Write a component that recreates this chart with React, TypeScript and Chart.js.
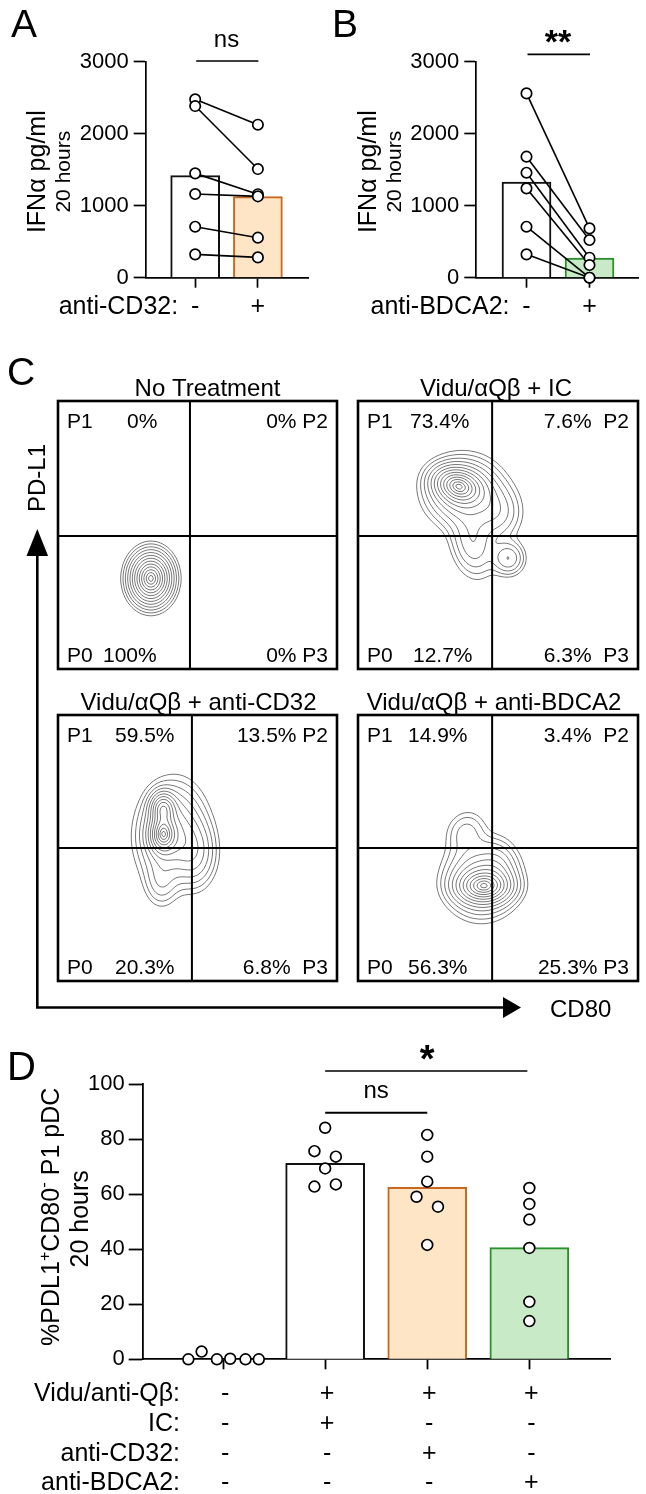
import React, { useEffect, useRef } from 'react';
import { Chart, registerables } from 'chart.js';

Chart.register(...registerables);

const FAMILY = '"Liberation Sans", Arial, Helvetica, sans-serif';
const f = (size: number, bold = false) => `${bold ? 'bold ' : ''}${size}px ${FAMILY}`;

// ===================== Panel A =====================
const aXLabels = ['-', '+'];
const aRowTitle = 'anti-CD32:';
const aWithout = [2477, 2384, 1449, 1162, 708, 324];
const aWith = [2125, 1509, 1160, 1130, 556, 282];
const aMeans = [1417, 1127];
const aSig = 'ns';

// ===================== Panel B =====================
const bXLabels = ['-', '+'];
const bRowTitle = 'anti-BDCA2:';
const bWithout = [2560, 1681, 1458, 1241, 708, 324];
const bWith = [685, 523, 278, 176, 0, 0];
const bMeans = [1329, 272];
const bSig = '**';

const abYTicks = [0, 1000, 2000, 3000];
const abYTitle = 'IFNα pg/ml';
const abYSubtitle = '20 hours';

// ===================== Panel C =====================
const cTitles = ['No Treatment', 'Vidu/αQβ + IC', 'Vidu/αQβ + anti-CD32', 'Vidu/αQβ + anti-BDCA2'];
const cP1 = ['0%', '73.4%', '59.5%', '14.9%'];
const cP2 = ['0% P2', '7.6%  P2', '13.5% P2', '3.4%  P2'];
const cP0 = ['100%', '12.7%', '20.3%', '56.3%'];
const cP3 = ['0% P3', '6.3%  P3', '6.8%  P3', '25.3% P3'];
const cGateCD80 = [47.3, 47.9, 48.0, 47.9];
const cGatePDL1 = [49.6, 49.6, 50.0, 50.0];
const cYAxisTitle = 'PD-L1';
const cXAxisTitle = 'CD80';
// cell-density peaks: [CD80, PD-L1, spread x, spread y, weight, tilt deg]
const cPeaks: number[][][] = [
  [
    [33.3, 33.8, 4.15, 5.35, 1.0, 0],
  ],
  [
    [35.5, 68.5, 5.0, 3.6, 1.0, -20],
    [38.0, 66.0, 7.5, 7.0, 0.6, -10],
    [41.0, 47.0, 4.5, 7.5, 0.28, 10],
    [50.0, 58.0, 5.0, 6.0, 0.22, 0],
    [53.7, 41.3, 3.4, 3.7, 0.3, 0],
  ],
  [
    [37.6, 55.0, 2.8, 4.0, 1.0, 0],
    [37.6, 65.0, 2.6, 3.5, 0.8, 0],
    [40.5, 56.0, 6.5, 10.0, 0.55, -5],
    [49.0, 48.0, 4.5, 7.5, 0.3, 0],
    [37.0, 37.0, 3.5, 5.5, 0.15, 0],
  ],
  [
    [45.0, 35.5, 5.5, 3.5, 1.0, 0],
    [44.0, 38.0, 7.0, 7.5, 0.6, 0],
    [38.5, 56.0, 4.2, 5.0, 0.16, -20],
    [50.0, 43.0, 4.0, 6.0, 0.14, 0],
  ],
];
// contour levels as fractions of each plot's highest density
const cContourLevels = [0.98, 0.923, 0.835, 0.726, 0.607, 0.487, 0.375, 0.278, 0.198, 0.135, 0.089, 0.056, 0.034];

// ===================== Panel D =====================
const dGroups = [0, 1, 2, 3];
const dRowTitles = ['Vidu/anti-Qβ:', 'IC:', 'anti-CD32:', 'anti-BDCA2:'];
const dRowSigns = [
  ['-', '+', '+', '+'],
  ['-', '+', '-', '-'],
  ['-', '-', '+', '-'],
  ['-', '-', '-', '+'],
];
const dMeans = [0, 71.3, 62.5, 40.6];
const dValues = [
  [0, 2.8, 0, 0.2, 0, 0],
  [84.2, 75.7, 73.7, 69.4, 62.8, 63.6],
  [81.6, 73.7, 64.6, 59.1, 55.5, 41.6],
  [62.3, 56.5, 50.8, 40.5, 20.9, 13.9],
];
const dJitter = [
  [-0.34, -0.21, -0.06, 0.07, 0.22, 0.35],
  [0, -0.105, 0.105, 0, -0.105, 0.105],
  [0, 0, 0, -0.105, 0.105, 0],
  [0, 0, 0, 0, 0, 0],
];
const dYTicks = [0, 20, 40, 60, 80, 100];
const dSigNs = 'ns';
const dSigStar = '*';

// ===================== styles =====================
const WHITE = '#ffffff';
const ORANGE_FILL = 'rgb(253,229,197)';
const ORANGE_LINE = 'rgb(200,104,30)';
const GREEN_FILL = 'rgb(200,234,198)';
const GREEN_LINE = 'rgb(42,145,42)';

function drawRotated(ctx: CanvasRenderingContext2D, text: string, font: string, baseX: number, centerY: number) {
  ctx.save();
  ctx.translate(baseX, centerY);
  ctx.rotate(-Math.PI / 2);
  ctx.font = font;
  ctx.textAlign = 'center';
  ctx.textBaseline = 'alphabetic';
  ctx.fillText(text, 0, 0);
  ctx.restore();
}

function drawRotatedRich(ctx: CanvasRenderingContext2D, segs: { t: string; size: number; rise: number }[], baseX: number, centerY: number) {
  ctx.save();
  ctx.translate(baseX, centerY);
  ctx.rotate(-Math.PI / 2);
  ctx.textAlign = 'left';
  ctx.textBaseline = 'alphabetic';
  let total = 0;
  segs.forEach((s) => { ctx.font = f(s.size); total += ctx.measureText(s.t).width; });
  let x = -total / 2;
  segs.forEach((s) => {
    ctx.font = f(s.size);
    ctx.fillText(s.t, x, -s.rise);
    x += ctx.measureText(s.t).width;
  });
  ctx.restore();
}

function densityAt(peaks: number[][], x: number, y: number) {
  let s = 0;
  for (const [cx, cy, sx, sy, w, rot] of peaks) {
    const a = (rot * Math.PI) / 180;
    const dx = x - cx;
    const dy = y - cy;
    const u = (dx * Math.cos(a) + dy * Math.sin(a)) / sx;
    const v = (-dx * Math.sin(a) + dy * Math.cos(a)) / sy;
    s += w * Math.exp(-0.5 * (u * u + v * v));
  }
  return s;
}

const baseOptions = {
  responsive: false,
  animation: false as const,
  devicePixelRatio: 1,
  events: [] as any[],
  plugins: { legend: { display: false }, tooltip: { enabled: false } },
};

type PairedCfg = {
  letter: string; letterX: number;
  without: number[]; withV: number[]; means: number[];
  xLabels: string[]; rowTitle: string; sig: string; sigFont: string; sigTextY: number; sigLineY: number;
  fills: string[]; lines: string[];
  yWidth: number; padRight: number; xMin: number; xMax: number;
};

function pairedChart(canvas: HTMLCanvasElement, c: PairedCfg) {
  const pairLines = c.without.map((v, i) => ({
    type: 'line' as const,
    data: [{ x: 0, y: v }, { x: 1, y: c.withV[i] }],
    borderColor: '#000', borderWidth: 1.6, pointRadius: 0, order: 5, clip: false as any,
  }));
  const points = {
    type: 'line' as const,
    showLine: false,
    data: [...c.without.map((v) => ({ x: 0, y: v })), ...c.withV.map((v) => ({ x: 1, y: v }))],
    pointRadius: 5.2, pointBorderWidth: 1.7, pointBackgroundColor: '#fff', pointBorderColor: '#000',
    order: 0, clip: false as any,
  };
  const bars = {
    type: 'bar' as const,
    data: c.means.map((m, i) => ({ x: i, y: m })),
    backgroundColor: c.fills, borderColor: c.lines, borderWidth: 2, barThickness: 49, order: 10,
  };
  return new Chart(canvas, {
    type: 'bar',
    data: { datasets: [bars, ...pairLines, points] as any },
    options: {
      ...baseOptions,
      layout: { padding: { left: 0, right: c.padRight, top: 61.7, bottom: 0 } },
      scales: {
        x: {
          type: 'linear', min: c.xMin, max: c.xMax, offset: false,
          afterBuildTicks: (s: any) => { s.ticks = [{ value: 0 }, { value: 1 }]; },
          ticks: { display: false },
          grid: { offset: false, drawOnChartArea: false, drawTicks: true, tickLength: 10, tickWidth: 1.7, tickColor: '#000' },
          border: { display: true, color: '#000', width: 1.7 },
          afterFit: (s: any) => { s.height = 52.3; },
        },
        y: {
          type: 'linear', min: 0, max: 3000,
          afterBuildTicks: (s: any) => { s.ticks = abYTicks.map((v) => ({ value: v })); },
          ticks: { font: { family: FAMILY, size: 22 }, color: '#000', padding: 5, callback: (v: any) => String(v) },
          grid: { drawOnChartArea: false, drawTicks: true, tickLength: 12, tickWidth: 1.7, tickColor: '#000' },
          border: { display: true, color: '#000', width: 1.7 },
          afterFit: (s: any) => { s.width = c.yWidth; },
        },
      },
    } as any,
    plugins: [{
      id: 'pairedAnnot',
      afterDraw(chart: any) {
        const ctx = chart.ctx as CanvasRenderingContext2D;
        const ca = chart.chartArea;
        const xs = chart.scales.x;
        ctx.save();
        ctx.fillStyle = '#000';
        ctx.strokeStyle = '#000';
        ctx.font = f(39);
        ctx.textAlign = 'left';
        ctx.textBaseline = 'alphabetic';
        ctx.fillText(c.letter, c.letterX, 36.5);
        const midY = (ca.top + ca.bottom) / 2 + 2;
        drawRotated(ctx, abYTitle, f(25), ca.left - 100.7, midY);
        drawRotated(ctx, abYSubtitle, f(21), ca.left - 75.7, midY);
        const x0 = xs.getPixelForValue(0);
        const x1 = xs.getPixelForValue(1);
        ctx.font = f(25);
        ctx.textAlign = 'right';
        ctx.fillText(c.rowTitle, x0 - 17, 314);
        ctx.textAlign = 'center';
        c.xLabels.forEach((l, i) => ctx.fillText(l, xs.getPixelForValue(i), 314));
        ctx.lineWidth = 1.7;
        ctx.beginPath();
        ctx.moveTo(x0 + 1, c.sigLineY);
        ctx.lineTo(x1 + 0.5, c.sigLineY);
        ctx.stroke();
        ctx.font = c.sigFont;
        ctx.fillText(c.sig, (x0 + x1) / 2, c.sigTextY);
        ctx.restore();
      },
    }],
  });
}

const BOX_LAYOUT = [
  { left: 58, top: 401, w: 279, h: 268 },
  { left: 358, top: 401, w: 280, h: 268 },
  { left: 58, top: 715, w: 279, h: 266 },
  { left: 358, top: 715, w: 280, h: 266 },
];
const TITLE_SHIFT = [10, -2, 1, -4];
const TOP_PCT_OFF = [69, 52, 57, 50];
const BOT_PCT_OFF = [45, 55, 57, 50];

function boxChart(canvas: HTMLCanvasElement, i: number) {
  return new Chart(canvas, {
    type: 'scatter',
    data: { datasets: [] },
    options: {
      ...baseOptions,
      layout: { padding: { left: 12, right: 8, top: 40, bottom: 8 } },
      scales: {
        x: { type: 'linear', min: 0, max: 100, display: false },
        y: { type: 'linear', min: 0, max: 100, display: false },
      },
    } as any,
    plugins: [{
      id: 'facs',
      afterDraw(chart: any) {
        const ctx = chart.ctx as CanvasRenderingContext2D;
        const ca = chart.chartArea;
        const xs = chart.scales.x;
        const ys = chart.scales.y;

        // contour plot (marching squares over the density)
        const step = 2;
        const nx = Math.floor((ca.right - ca.left) / step);
        const ny = Math.floor((ca.bottom - ca.top) / step);
        const W = nx + 1;
        const grid = new Float64Array(W * (ny + 1));
        let max = 0;
        for (let j = 0; j <= ny; j++) {
          for (let k = 0; k <= nx; k++) {
            const v = densityAt(cPeaks[i], xs.getValueForPixel(ca.left + k * step), ys.getValueForPixel(ca.top + j * step));
            grid[j * W + k] = v;
            if (v > max) max = v;
          }
        }
        ctx.save();
        ctx.beginPath();
        ctx.rect(ca.left, ca.top, ca.right - ca.left, ca.bottom - ca.top);
        ctx.clip();
        ctx.strokeStyle = 'rgb(120,120,120)';
        ctx.lineWidth = 1;
        for (const lv of cContourLevels) {
          const L = lv * max;
          ctx.beginPath();
          for (let j = 0; j < ny; j++) {
            for (let k = 0; k < nx; k++) {
              const v0 = grid[j * W + k];
              const v1 = grid[j * W + k + 1];
              const v2 = grid[(j + 1) * W + k + 1];
              const v3 = grid[(j + 1) * W + k];
              const X = ca.left + k * step;
              const Y = ca.top + j * step;
              const p: number[][] = [];
              if ((v0 >= L) !== (v1 >= L)) p.push([X + (step * (L - v0)) / (v1 - v0), Y]);
              if ((v1 >= L) !== (v2 >= L)) p.push([X + step, Y + (step * (L - v1)) / (v2 - v1)]);
              if ((v3 >= L) !== (v2 >= L)) p.push([X + (step * (L - v3)) / (v2 - v3), Y + step]);
              if ((v0 >= L) !== (v3 >= L)) p.push([X, Y + (step * (L - v0)) / (v3 - v0)]);
              if (p.length >= 2) { ctx.moveTo(p[0][0], p[0][1]); ctx.lineTo(p[1][0], p[1][1]); }
              if (p.length === 4) { ctx.moveTo(p[2][0], p[2][1]); ctx.lineTo(p[3][0], p[3][1]); }
            }
          }
          ctx.stroke();
        }
        ctx.restore();

        ctx.save();
        ctx.strokeStyle = '#000';
        ctx.fillStyle = '#000';
        const gx = xs.getPixelForValue(cGateCD80[i]);
        const gy = ys.getPixelForValue(cGatePDL1[i]);
        ctx.lineWidth = 2;
        ctx.beginPath();
        ctx.moveTo(gx, ca.top); ctx.lineTo(gx, ca.bottom);
        ctx.moveTo(ca.left, gy); ctx.lineTo(ca.right, gy);
        ctx.stroke();
        ctx.lineWidth = 2.6;
        ctx.strokeRect(ca.left, ca.top, ca.right - ca.left, ca.bottom - ca.top);

        ctx.textBaseline = 'alphabetic';
        ctx.font = f(24);
        ctx.textAlign = 'center';
        ctx.fillText(cTitles[i], (ca.left + ca.right) / 2 + TITLE_SHIFT[i], ca.top - 5);

        ctx.font = f(21);
        ctx.textAlign = 'left';
        ctx.fillText('P1', ca.left + 9, ca.top + 27);
        ctx.fillText(cP1[i], ca.left + TOP_PCT_OFF[i], ca.top + 27);
        ctx.fillText('P0', ca.left + 9, ca.bottom - 7);
        ctx.fillText(cP0[i], ca.left + BOT_PCT_OFF[i], ca.bottom - 7);
        ctx.textAlign = 'right';
        ctx.fillText(cP2[i], ca.right - 9, ca.top + 27);
        ctx.fillText(cP3[i], ca.right - 9, ca.bottom - 7);
        ctx.restore();
      },
    }],
  });
}

function frameChart(canvas: HTMLCanvasElement) {
  const o = 330;
  return new Chart(canvas, {
    type: 'scatter',
    data: { datasets: [] },
    options: {
      ...baseOptions,
      scales: {
        x: { type: 'linear', min: 0, max: 1, display: false },
        y: { type: 'linear', min: 0, max: 1, display: false },
      },
    } as any,
    plugins: [{
      id: 'cframe',
      afterDraw(chart: any) {
        const ctx = chart.ctx as CanvasRenderingContext2D;
        ctx.save();
        ctx.fillStyle = '#000';
        ctx.strokeStyle = '#000';
        ctx.font = f(39);
        ctx.textAlign = 'left';
        ctx.textBaseline = 'alphabetic';
        ctx.fillText('C', 7, 385 - o);
        drawRotated(ctx, cYAxisTitle, f(24), 45, 478 - o);
        ctx.lineWidth = 2.6;
        ctx.lineJoin = 'miter';
        ctx.beginPath();
        ctx.moveTo(37.3, 553 - o);
        ctx.lineTo(37.3, 1007.5 - o);
        ctx.lineTo(506, 1007.5 - o);
        ctx.stroke();
        ctx.beginPath();
        ctx.moveTo(37.3, 529 - o); ctx.lineTo(26.5, 556 - o); ctx.lineTo(48.1, 556 - o); ctx.closePath();
        ctx.fill();
        ctx.beginPath();
        ctx.moveTo(521, 1007.5 - o); ctx.lineTo(503, 997 - o); ctx.lineTo(503, 1018 - o); ctx.closePath();
        ctx.fill();
        ctx.font = f(24);
        ctx.fillText(cXAxisTitle, 550, 1017 - o);
        ctx.restore();
      },
    }],
  });
}

function dChart(canvas: HTMLCanvasElement) {
  const bars = {
    type: 'bar' as const,
    data: dMeans.map((m, i) => ({ x: dGroups[i], y: m })),
    backgroundColor: [WHITE, WHITE, ORANGE_FILL, GREEN_FILL],
    borderColor: ['#111', '#111', ORANGE_LINE, GREEN_LINE],
    borderWidth: 2, barThickness: 79, order: 10,
  };
  const pts: { x: number; y: number }[] = [];
  dValues.forEach((arr, g) => arr.forEach((v, k) => pts.push({ x: dGroups[g] + dJitter[g][k], y: v })));
  const points = {
    type: 'line' as const, showLine: false, data: pts,
    pointRadius: 5.4, pointBorderWidth: 1.7, pointBackgroundColor: '#fff', pointBorderColor: '#000',
    order: 0, clip: false as any,
  };
  return new Chart(canvas, {
    type: 'bar',
    data: { datasets: [bars, points] as any },
    options: {
      ...baseOptions,
      layout: { padding: { left: 0, right: 36, top: 54.3, bottom: 0 } },
      scales: {
        x: {
          type: 'linear', min: -0.787, max: 3.79, offset: false,
          afterBuildTicks: (s: any) => { s.ticks = dGroups.map((g) => ({ value: g })); },
          ticks: { display: false },
          grid: { offset: false, drawOnChartArea: false, drawTicks: true, tickLength: 10, tickWidth: 1.8, tickColor: '#000' },
          border: { display: true, color: '#000', width: 1.8 },
          afterFit: (s: any) => { s.height = 134.7; },
        },
        y: {
          type: 'linear', min: 0, max: 100,
          afterBuildTicks: (s: any) => { s.ticks = dYTicks.map((v) => ({ value: v })); },
          ticks: { font: { family: FAMILY, size: 22 }, color: '#000', padding: 4, callback: (v: any) => String(v) },
          grid: { drawOnChartArea: false, drawTicks: true, tickLength: 14, tickWidth: 1.8, tickColor: '#000' },
          border: { display: true, color: '#000', width: 1.8 },
          afterFit: (s: any) => { s.width = 142.7; },
        },
      },
    } as any,
    plugins: [{
      id: 'dAnnot',
      afterDraw(chart: any) {
        const ctx = chart.ctx as CanvasRenderingContext2D;
        const ca = chart.chartArea;
        const xs = chart.scales.x;
        ctx.save();
        ctx.fillStyle = '#000';
        ctx.strokeStyle = '#000';
        ctx.textBaseline = 'alphabetic';
        ctx.font = f(40);
        ctx.textAlign = 'left';
        ctx.fillText('D', 7, 50);
        const mid = (ca.top + ca.bottom) / 2;
        drawRotatedRich(ctx, [
          { t: '%PDL1', size: 25, rise: 0 },
          { t: '+', size: 16, rise: 9 },
          { t: 'CD80', size: 25, rise: 0 },
          { t: '-', size: 17, rise: 10 },
          { t: ' P1 pDC', size: 25, rise: 0 },
        ], ca.left - 83.7, mid - 5);
        drawRotated(ctx, abYSubtitle, f(25), ca.left - 54.4, mid - 3);

        const gx = dGroups.map((g) => xs.getPixelForValue(g));
        ctx.font = f(25);
        dRowTitles.forEach((t, r) => {
          const y = ca.bottom + 42 + 29.7 * r;
          ctx.textAlign = 'right';
          ctx.fillText(t, gx[0] - 43, y);
          ctx.textAlign = 'center';
          dRowSigns[r].forEach((s, g) => ctx.fillText(s, gx[g] + 2, y));
        });

        ctx.lineWidth = 2;
        ctx.beginPath();
        ctx.moveTo(gx[1], ca.top + 28.4);
        ctx.lineTo(gx[2], ca.top + 28.4);
        ctx.stroke();
        ctx.lineWidth = 1.3;
        ctx.beginPath();
        ctx.moveTo(gx[1], ca.top - 13.3);
        ctx.lineTo(gx[3] - 2, ca.top - 13.3);
        ctx.stroke();
        ctx.textAlign = 'center';
        ctx.font = f(24);
        ctx.fillText(dSigNs, (gx[1] + gx[2]) / 2, ca.top + 14);
        ctx.font = f(38, true);
        ctx.fillText(dSigStar, (gx[1] + gx[3]) / 2, 42);
        ctx.restore();
      },
    }],
  });
}

export default function App() {
  const aRef = useRef<HTMLCanvasElement>(null);
  const bRef = useRef<HTMLCanvasElement>(null);
  const frameRef = useRef<HTMLCanvasElement>(null);
  const box0 = useRef<HTMLCanvasElement>(null);
  const box1 = useRef<HTMLCanvasElement>(null);
  const box2 = useRef<HTMLCanvasElement>(null);
  const box3 = useRef<HTMLCanvasElement>(null);
  const dRef = useRef<HTMLCanvasElement>(null);
  const boxRefs = [box0, box1, box2, box3];

  useEffect(() => {
    document.body.style.margin = '0';
    const charts: Chart[] = [];
    charts.push(pairedChart(aRef.current!, {
      letter: 'A', letterX: 11, without: aWithout, withV: aWith, means: aMeans,
      xLabels: aXLabels, rowTitle: aRowTitle, sig: aSig, sigFont: f(24), sigTextY: 46.7, sigLineY: 61,
      fills: [WHITE, ORANGE_FILL], lines: ['#111', ORANGE_LINE],
      yWidth: 145.7, padRight: 15, xMin: -0.789, xMax: 1.799,
    }));
    charts.push(pairedChart(bRef.current!, {
      letter: 'B', letterX: 9, without: bWithout, withV: bWith, means: bMeans,
      xLabels: bXLabels, rowTitle: bRowTitle, sig: bSig, sigFont: f(34, true), sigTextY: 53, sigLineY: 54.3,
      fills: [WHITE, GREEN_FILL], lines: ['#111', GREEN_LINE],
      yWidth: 153.3, padRight: 8, xMin: -0.797, xMax: 1.77,
    }));
    charts.push(frameChart(frameRef.current!));
    boxRefs.forEach((r, i) => charts.push(boxChart(r.current!, i)));
    charts.push(dChart(dRef.current!));
    return () => charts.forEach((c) => c.destroy());
  }, []);

  const abs = (left: number, top: number, w: number, h: number) =>
    ({ position: 'absolute' as const, left, top, width: w, height: h });

  return (
    <div style={{ position: 'absolute', left: 0, top: 0, width: 646, height: 1494, background: '#fff', overflow: 'hidden' }}>
      <canvas ref={aRef} width={323} height={330} style={abs(0, 0, 323, 330)} />
      <canvas ref={bRef} width={323} height={330} style={abs(323, 0, 323, 330)} />
      <canvas ref={frameRef} width={646} height={700} style={abs(0, 330, 646, 700)} />
      {BOX_LAYOUT.map((b, i) => (
        <canvas key={i} ref={boxRefs[i]} width={b.w + 20} height={b.h + 48}
          style={abs(b.left - 12, b.top - 40, b.w + 20, b.h + 48)} />
      ))}
      <canvas ref={dRef} width={646} height={464} style={abs(0, 1030, 646, 464)} />
    </div>
  );
}
